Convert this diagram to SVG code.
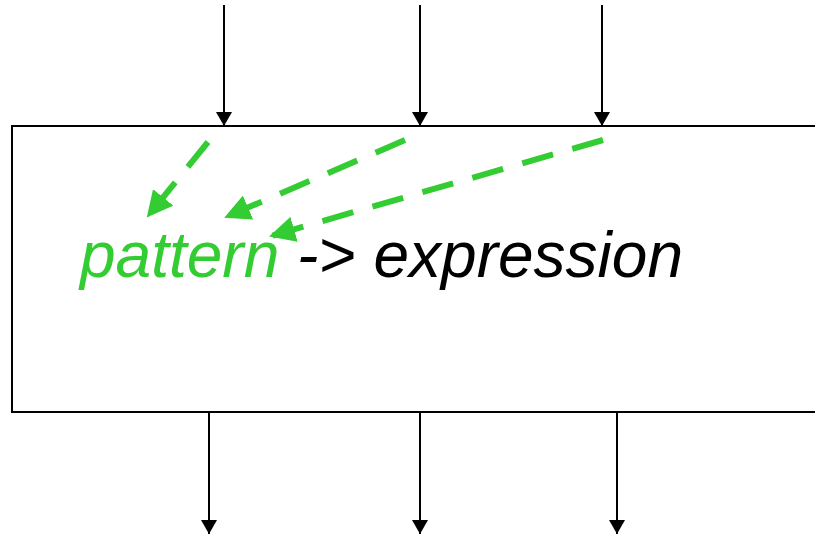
<svg xmlns="http://www.w3.org/2000/svg" width="815" height="537" viewBox="0 0 815 537">
<defs>
<style>
.blk{stroke:#000;stroke-width:2;fill:none}
.grn{stroke:#33cc33;stroke-width:6;fill:none;stroke-dasharray:32 20}
.t{font-family:"Liberation Sans",Arial,sans-serif;font-style:italic;font-size:64px}
</style>
<marker id="ab" markerWidth="14" markerHeight="16" refX="14" refY="8" orient="auto" markerUnits="userSpaceOnUse">
<path d="M0,0 L14,8 L0,16 Z" fill="#000"/>
</marker>
<marker id="ag" markerWidth="26" markerHeight="26" refX="24" refY="13" orient="auto" markerUnits="userSpaceOnUse">
<path d="M0,0 L26,13 L0,26 Z" fill="#33cc33"/>
</marker>
</defs>
<g id="box">
<rect x="12" y="126" width="820" height="286" fill="#fff" stroke="#000" stroke-width="2"/>
</g>
<g id="label">
<text class="t" x="80" y="277"><tspan fill="#33cc33">pattern</tspan><tspan fill="#000"> -&gt; expression</tspan></text>
</g>
<g id="connectors">
<line class="blk" x1="224" y1="5" x2="224" y2="126" marker-end="url(#ab)"/>
<line class="blk" x1="420" y1="5" x2="420" y2="126" marker-end="url(#ab)"/>
<line class="blk" x1="602" y1="5" x2="602" y2="126" marker-end="url(#ab)"/>
<line class="blk" x1="209" y1="412" x2="209" y2="534" marker-end="url(#ab)"/>
<line class="blk" x1="420" y1="412" x2="420" y2="534" marker-end="url(#ab)"/>
<line class="blk" x1="617" y1="412" x2="617" y2="534" marker-end="url(#ab)"/>
<line class="grn" x1="208" y1="142" x2="148" y2="216" marker-end="url(#ag)"/>
<line class="grn" x1="405" y1="140" x2="226" y2="217" marker-end="url(#ag)"/>
<line class="grn" x1="603" y1="140" x2="271" y2="236" marker-end="url(#ag)"/>
</g>
</svg>
